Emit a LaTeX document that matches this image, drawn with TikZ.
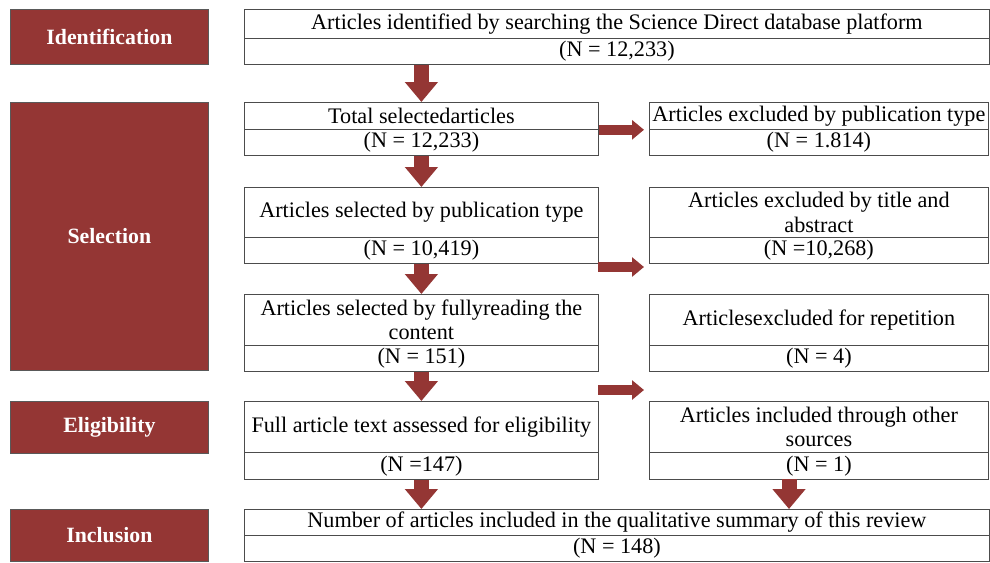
\documentclass[tikz,border=0pt]{standalone}
\usepackage{fontspec}
\setmainfont{Liberation Serif}
\usetikzlibrary{arrows.meta}
\definecolor{wred}{HTML}{943634}
\begin{document}
\begin{tikzpicture}[x=1pt,y=-1pt,
  part/.style={draw=black!70, line width=0.8pt, inner sep=0pt, anchor=north west, align=center, font=\fontsize{22.2}{24.5}\selectfont},
  stage/.style={draw=black!65, fill=wred, line width=0.8pt, inner sep=0pt, anchor=north west, text=white, font=\fontsize{21.8}{24}\selectfont\bfseries},
  downarrow/.style={draw=wred, line width=15pt, -{Triangle[width=32pt,length=20pt]}},
  rightarrow/.style={draw=wred, line width=10pt, -{Triangle[width=19pt,length=12pt]}},
]
\useasboundingbox (0,0) rectangle (990,562);
% stage labels
\node[stage, minimum width=198pt, minimum height=55pt] (sid) at (10,9) {Identification};
\node[stage, minimum width=198pt, minimum height=268pt] (ssel) at (10,102) {Selection};
\node[stage, minimum width=198pt, minimum height=52pt] (selig) at (10,401) {Eligibility};
\node[stage, minimum width=198pt, minimum height=52pt] (sinc) at (10,509) {Inclusion};
% left column
\node[part, minimum width=745pt, minimum height=29pt] (b1t) at (244,9) {Articles identified by searching the Science Direct database platform};
\node[part, minimum width=745pt, minimum height=26pt] (b1b) at (244,38) {(N = 12,233)};
\node[part, minimum width=354pt, minimum height=27pt] (b2t) at (244,102) {Total selectedarticles};
\node[part, minimum width=354pt, minimum height=26pt] (b2b) at (244,129) {(N = 12,233)};
\node[part, minimum width=354pt, minimum height=50pt] (b3t) at (244,187) {Articles selected by publication type};
\node[part, minimum width=354pt, minimum height=26pt] (b3b) at (244,237) {(N = 10,419)};
\node[part, minimum width=354pt, minimum height=51pt] (b4t) at (244,294) {Articles selected by fullyreading the\\content};
\node[part, minimum width=354pt, minimum height=26pt] (b4b) at (244,345) {(N = 151)};
\node[part, minimum width=354pt, minimum height=51pt] (b5t) at (244,401) {Full article text assessed for eligibility};
\node[part, minimum width=354pt, minimum height=27pt] (b5b) at (244,452) {(N =147)};
\node[part, minimum width=745pt, minimum height=26pt] (b6t) at (244,509) {Number of articles included in the qualitative summary of this review};
\node[part, minimum width=745pt, minimum height=26pt] (b6b) at (244,535) {(N = 148)};
% right column
\node[part, minimum width=339pt, minimum height=27pt] (r1t) at (649,102) {Articles excluded by publication type};
\node[part, minimum width=339pt, minimum height=26pt] (r1b) at (649,129) {(N = 1.814)};
\node[part, minimum width=339pt, minimum height=50pt] (r2t) at (649,187) {Articles excluded by title and\\abstract};
\node[part, minimum width=339pt, minimum height=26pt] (r2b) at (649,237) {(N =10,268)};
\node[part, minimum width=339pt, minimum height=51pt] (r3t) at (649,294) {Articlesexcluded for repetition};
\node[part, minimum width=339pt, minimum height=26pt] (r3b) at (649,345) {(N = 4)};
\node[part, minimum width=339pt, minimum height=51pt] (r4t) at (649,401) {Articles included through other\\sources};
\node[part, minimum width=339pt, minimum height=27pt] (r4b) at (649,452) {(N = 1)};
% arrow helper coordinates
\coordinate (h2s) at (598,267);
\coordinate (h2e) at (644,267);
\coordinate (h3s) at (598,390);
\coordinate (h3e) at (644,390);
\coordinate (a6) at (789,479);
% down arrows
\draw[downarrow] (b2t.north |- b1b.south) -- (b2t.north);
\draw[downarrow] (b2b.south) -- (b3t.north);
\draw[downarrow] (b3b.south) -- (b4t.north);
\draw[downarrow] (b4b.south) -- (b5t.north);
\draw[downarrow] (b5b.south) -- (b5b.south |- b6t.north);
\draw[downarrow] (a6) -- (a6 |- b6t.north);
% right arrows
\draw[rightarrow, shorten >=5pt] (b2t.south east) -- (r1t.south west);
\draw[rightarrow] (h2s) -- (h2e);
\draw[rightarrow] (h3s) -- (h3e);
\end{tikzpicture}
\end{document}
